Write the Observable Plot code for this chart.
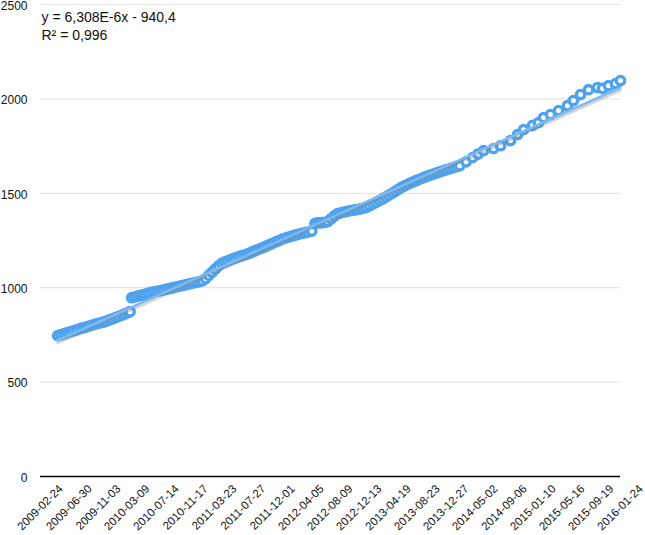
<!DOCTYPE html>
<html>
<head>
<meta charset="utf-8">
<script src="https://cdn.jsdelivr.net/npm/d3@7"></script>
<script src="https://cdn.jsdelivr.net/npm/@observablehq/plot@0.6"></script>
<style>
  html, body { margin: 0; padding: 0; background: #fff; }
  #chart svg { display: block; }
</style>
</head>
<body>
<div id="chart"></div>
<script>
const dates = [
  "2009-05-10","2009-05-24","2009-06-07","2009-06-21","2009-07-05","2009-07-19","2009-08-02","2009-08-16","2009-08-30","2009-09-13","2009-09-27","2009-10-11","2009-10-25","2009-11-08","2009-11-22","2009-12-06","2009-12-20",
  "2010-01-03","2010-01-17","2010-01-31","2010-02-14","2010-02-28","2010-03-14","2010-03-21","2010-03-28","2010-04-11","2010-04-25","2010-05-09","2010-05-23","2010-06-06","2010-06-20","2010-07-04","2010-07-18","2010-08-01","2010-08-15","2010-08-29","2010-09-12","2010-09-26","2010-10-10","2010-10-24","2010-11-07","2010-11-21","2010-12-05","2010-12-19",
  "2011-01-02","2011-01-16","2011-01-30","2011-02-13","2011-02-27","2011-03-13","2011-03-27","2011-04-10","2011-04-24","2011-05-08","2011-05-22","2011-06-05","2011-06-19","2011-07-03","2011-07-17","2011-07-31","2011-08-14","2011-08-28","2011-09-11","2011-09-25","2011-10-09","2011-10-23","2011-11-06","2011-11-20","2011-12-04","2011-12-18",
  "2012-01-01","2012-01-15","2012-01-29","2012-02-12","2012-02-26","2012-03-11","2012-03-25","2012-04-08","2012-04-22","2012-05-06","2012-05-20","2012-06-03","2012-06-17","2012-07-01","2012-07-15","2012-07-29","2012-08-12","2012-08-26","2012-09-09","2012-09-23","2012-10-07","2012-10-21","2012-11-04","2012-11-18","2012-12-02","2012-12-16","2012-12-30",
  "2013-01-13","2013-01-27","2013-02-10","2013-02-24","2013-03-10","2013-03-24","2013-04-07","2013-04-21","2013-05-05","2013-05-19","2013-06-02","2013-06-16","2013-06-30","2013-07-14","2013-07-28","2013-08-11","2013-08-25","2013-09-08","2013-09-22","2013-10-06","2013-10-20","2013-11-03","2013-11-17","2013-12-01","2013-12-15","2013-12-29",
  "2014-01-12","2014-01-26","2014-02-09","2014-02-23","2014-03-23","2014-04-20","2014-05-14","2014-06-07","2014-07-20","2014-08-20","2014-10-02","2014-11-02","2014-11-28",
  "2015-01-06","2015-02-01","2015-02-23","2015-03-25","2015-04-29","2015-06-07","2015-07-03","2015-08-03","2015-09-07","2015-10-16","2015-11-07","2015-12-03",
  "2016-01-02","2016-01-24"
];
const values = [
  746,751,757,762,767,772,777,783,788,793,798,803,808,812,817,822,829,
  835,842,848,855,862,869,873,947,951,956,960,965,970,975,978,982,985,989,993,996,1000,1004,1008,1012,1016,1020,1024,
  1028,1032,1036,1048,1065,1082,1099,1116,1129,1136,1143,1150,1156,1162,1168,1173,1179,1185,1193,1200,1207,1214,1221,1229,1236,1244,
  1251,1259,1264,1269,1274,1279,1284,1288,1292,1296,1300,1340,1344,1344,1346,1350,1365,1380,1392,1396,1400,1404,1408,1411,1414,1417,1421,
  1426,1434,1443,1452,1461,1470,1480,1490,1500,1511,1522,1532,1541,1549,1557,1564,1571,1578,1585,1591,1597,1603,1609,1615,1620,1625,
  1631,1636,1641,1646,1667,1689,1708,1726,1737,1752,1779,1811,1837,
  1859,1874,1901,1917,1938,1964,1991,2023,2049,2060,2055,2070,
  2081,2097
];
const xTickLabels = [
  "2009-02-24","2009-06-30","2009-11-03","2010-03-09","2010-07-14","2010-11-17","2011-03-23",
  "2011-07-27","2011-12-01","2012-04-05","2012-08-09","2012-12-13","2013-04-19","2013-08-23",
  "2013-12-27","2014-05-02","2014-09-06","2015-01-10","2015-05-16","2015-09-19","2016-01-24"
];
const yTicks = [0, 500, 1000, 1500, 2000, 2500];
const fitLines = ["y = 6,308E-6x - 940,4", "R² = 0,996"];

const data = dates.map((d, i) => ({date: new Date(d), value: values[i]}));
const xTicks = xTickLabels.map(d => new Date(d));
const labelOf = new Map(xTicks.map((d, i) => [+d, xTickLabels[i]]));

const blue = "#4ea2ee";
const chart = Plot.plot({
  width: 645,
  height: 535,
  marginLeft: 40,
  marginRight: 25,
  marginTop: 4,
  marginBottom: 59,
  style: {fontFamily: "'Liberation Sans', Arial, Helvetica, sans-serif", fontSize: "12px", color: "#111", background: "#fff"},
  x: {type: "utc", domain: [xTicks[0], xTicks[xTicks.length - 1]]},
  y: {domain: [0, 2500]},
  marks: [
    Plot.gridY(yTicks.filter(d => d > 0), {stroke: "#e2e2e2", strokeOpacity: 1, strokeWidth: 1}),
    Plot.axisY(yTicks, {tickSize: 0, tickPadding: 13, label: null, fontSize: 12, dy: 1.5, tickFormat: d => String(d)}),
    Plot.axisX(xTicks, {tickSize: 0, tickPadding: 0, tickRotate: -45, textAnchor: "end", lineAnchor: "bottom",
      dx: 23, dy: 13, label: null, fontSize: 11.5, tickFormat: d => labelOf.get(+d)}),
    Plot.ruleY([0], {stroke: "#000", strokeWidth: 1.5}),
    Plot.dot(data, {x: "date", y: "value", r: 4.2, stroke: blue, strokeWidth: 3.4, fill: "#fff"}),
    Plot.linearRegressionY(data, {x: "date", y: "value", ci: 0, stroke: "#888", strokeOpacity: 0.35, strokeWidth: 3, dy: 2.5}),
    Plot.linearRegressionY(data, {x: "date", y: "value", ci: 0, stroke: "#7dbaf2", strokeWidth: 2.5}),
    Plot.text([fitLines.join("\n")], {frameAnchor: "top-left", textAnchor: "start", lineAnchor: "top",
      lineHeight: 1.29, fontSize: 14, fill: "#111", dx: 1, dy: 5})
  ]
});
document.getElementById("chart").append(chart);
</script>
</body>
</html>
